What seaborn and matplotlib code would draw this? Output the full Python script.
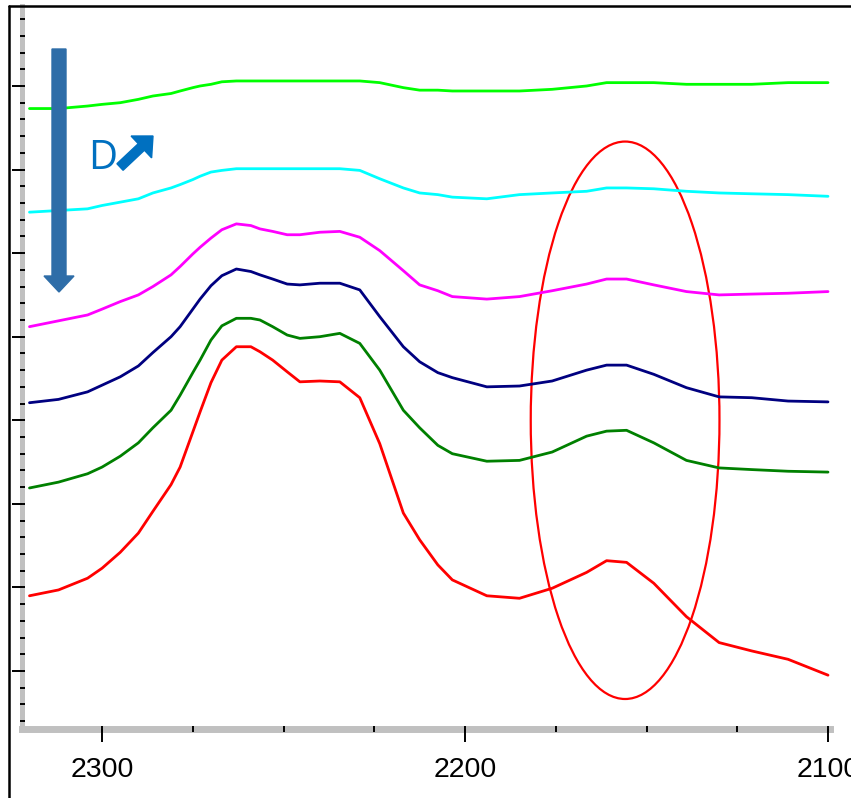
import numpy as np
import pandas as pd
import matplotlib
matplotlib.use("Agg")
from matplotlib import pyplot as plt
from matplotlib import patches as mpatches
from matplotlib.lines import Line2D
from matplotlib.ticker import MultipleLocator, FixedLocator
import seaborn as sns

# wavenumber (cm-1)
wavenumbers = [2320, 2312, 2304, 2300, 2295, 2290, 2286, 2281, 2278.5, 2275,
               2273, 2270, 2267, 2263, 2259, 2256.5, 2253, 2249, 2245.5, 2240,
               2234.5, 2229, 2223.5, 2217, 2212.5, 2207.5, 2203.5, 2194, 2185, 2176,
               2166.5, 2161, 2155.5, 2148, 2139, 2130, 2121, 2111, 2100]

# offset spectra, top to bottom
lime = [7.73, 7.73, 7.76, 7.78, 7.80, 7.84, 7.88, 7.91, 7.94, 7.98,
        8.00, 8.02, 8.05, 8.06, 8.06, 8.06, 8.06, 8.06, 8.06, 8.06,
        8.06, 8.06, 8.04, 7.98, 7.95, 7.95, 7.94, 7.94, 7.94, 7.96,
        8.00, 8.04, 8.04, 8.04, 8.02, 8.02, 8.02, 8.04, 8.04]
cyan = [6.49, 6.51, 6.53, 6.57, 6.61, 6.65, 6.72, 6.78, 6.82, 6.88,
        6.92, 6.97, 6.99, 7.01, 7.01, 7.01, 7.01, 7.01, 7.01, 7.01,
        7.01, 6.99, 6.89, 6.78, 6.72, 6.70, 6.67, 6.65, 6.70, 6.72,
        6.74, 6.78, 6.78, 6.77, 6.74, 6.72, 6.71, 6.70, 6.68]
magenta = [5.12, 5.19, 5.26, 5.33, 5.42, 5.50, 5.60, 5.74, 5.84, 5.99,
           6.07, 6.18, 6.28, 6.35, 6.33, 6.29, 6.26, 6.22, 6.22, 6.25,
           6.26, 6.19, 6.03, 5.79, 5.62, 5.55, 5.48, 5.45, 5.48, 5.55,
           5.63, 5.69, 5.69, 5.62, 5.54, 5.50, 5.51, 5.52, 5.54]
navy = [4.21, 4.25, 4.34, 4.42, 4.52, 4.65, 4.81, 5.00, 5.12, 5.33,
        5.45, 5.61, 5.73, 5.81, 5.78, 5.74, 5.69, 5.63, 5.62, 5.64,
        5.64, 5.56, 5.24, 4.88, 4.70, 4.57, 4.51, 4.40, 4.41, 4.47,
        4.60, 4.66, 4.66, 4.55, 4.39, 4.28, 4.27, 4.23, 4.22]
dark_green = [3.19, 3.26, 3.36, 3.44, 3.57, 3.73, 3.91, 4.12, 4.30, 4.57,
              4.72, 4.96, 5.13, 5.22, 5.22, 5.20, 5.12, 5.02, 4.98, 5.00,
              5.04, 4.92, 4.60, 4.12, 3.91, 3.70, 3.60, 3.51, 3.52, 3.62,
              3.81, 3.87, 3.88, 3.73, 3.52, 3.43, 3.41, 3.39, 3.38]
red = [1.90, 1.97, 2.11, 2.23, 2.42, 2.65, 2.91, 3.23, 3.44, 3.86,
       4.10, 4.45, 4.72, 4.88, 4.88, 4.82, 4.72, 4.58, 4.46, 4.47,
       4.46, 4.27, 3.72, 2.89, 2.57, 2.27, 2.09, 1.90, 1.87, 1.99,
       2.18, 2.32, 2.30, 2.05, 1.65, 1.34, 1.24, 1.14, 0.95]

series_names = ["lime", "cyan", "magenta", "navy", "dark_green", "red"]
series_values = [lime, cyan, magenta, navy, dark_green, red]
series_colors = ["#00FF00", "#00FFFF", "#FF00FF", "#000080", "#008000", "#FF0000"]

x_major = [2300, 2200, 2100]

frames = []
for name, vals in zip(series_names, series_values):
    frames.append(pd.DataFrame({"wn": wavenumbers, "val": vals, "series": name}))
df = pd.concat(frames, ignore_index=True)

sns.set_style("white")
plt.rcParams['font.family'] = ['Liberation Sans', 'DejaVu Sans']

W, H = 851, 798
fig = plt.figure(figsize=(W / 100, H / 100), dpi=100)
# axes box in pixels: left 21.5, right 830, top 6, bottom 729
ax = fig.add_axes([21.5 / W, (H - 729) / H, (830 - 21.5) / W, (729 - 6) / H])

sns.lineplot(data=df, x="wn", y="val", hue="series", palette=dict(zip(series_names, series_colors)),
             hue_order=series_names, linewidth=2.0, legend=False, sort=False, ax=ax)

ax.set_xlim(2322.2, 2099.45)
ax.set_ylim(0.306, 8.957)
ax.set_xlabel("")
ax.set_ylabel("")

# spines: thick grey bars on left and bottom
for side in ["top", "right"]:
    ax.spines[side].set_visible(False)
ax.spines["bottom"].set_color("#C0C0C0")
ax.spines["bottom"].set_linewidth(5)
ax.spines["left"].set_color("#C0C0C0")
ax.spines["left"].set_linewidth(3.6)
ax.xaxis.set_zorder(3)
ax.yaxis.set_zorder(3)

ax.xaxis.set_major_locator(FixedLocator(x_major))
ax.xaxis.set_minor_locator(MultipleLocator(25))
ax.yaxis.set_major_locator(MultipleLocator(1))
ax.yaxis.set_minor_locator(MultipleLocator(0.2))
ax.xaxis.remove_overlapping_locs = False
ax.yaxis.remove_overlapping_locs = False

ax.tick_params(axis="x", which="major", direction="out", length=9.4, width=1.4, color="black",
               labelsize=20.5, pad=11, labelcolor="black", bottom=True)
ax.tick_params(axis="x", which="minor", direction="inout", length=5, width=1.4, color="black", bottom=True)
ax.tick_params(axis="y", which="major", direction="out", length=7, width=1.4, color="black",
               labelleft=False, left=True)
ax.tick_params(axis="y", which="minor", direction="inout", length=3.6, width=1.4, color="black", left=True)
ax.set_xticklabels([str(v) for v in x_major])

# highlight ellipse around the ~2156 band
ax.add_patch(mpatches.Ellipse((2155.9, 4.0), 52, 6.67, fill=False, edgecolor="#FF0000", linewidth=1.6))

# annotations placed in inches from bottom-left
inch = fig.dpi_scale_trans
fig.patches.append(mpatches.FancyArrow(0.59, (H - 49) / 100, 0, -(292 - 49) / 100, width=0.14,
                                       head_width=0.30, head_length=0.16, length_includes_head=True,
                                       color="#2E6DA8", transform=inch, figure=fig))
fig.text(88 / W, (H - 169) / H, "D", color="#0070C0", fontsize=29, family=["Open Sans", "DejaVu Sans"],
         ha="left", va="baseline")
fig.patches.append(mpatches.FancyArrow(1.20, (H - 167) / 100, 0.33, 0.31, width=0.09,
                                       head_width=0.30, head_length=0.16, length_includes_head=True,
                                       color="#0070C0", transform=inch, figure=fig))

# outer frame lines (left and top)
fig.add_artist(Line2D([9 / W, 9 / W], [0, (H - 6) / H], color="black", linewidth=1.8, transform=fig.transFigure))
fig.add_artist(Line2D([9 / W, 1], [(H - 6) / H, (H - 6) / H], color="black", linewidth=1.8,
                      transform=fig.transFigure))

fig.savefig("out.png", dpi=100)
